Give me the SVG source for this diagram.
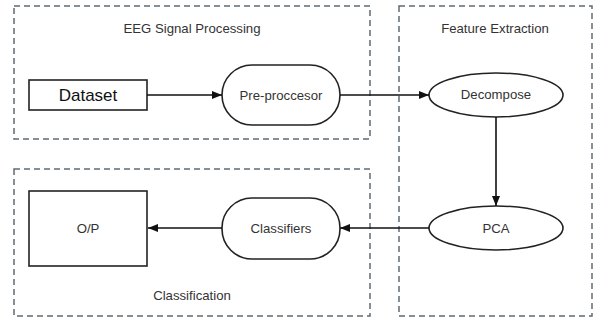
<svg xmlns="http://www.w3.org/2000/svg" width="597" height="320" viewBox="0 0 597 320">
<style>
.grp{fill:none;stroke:#5f6a74;stroke-width:1.5;stroke-dasharray:6 4}
.nd{fill:#fff;stroke:#222;stroke-width:1.6}
.lbl{font-family:"Liberation Sans",Arial,sans-serif;font-size:13.2px;fill:#333;text-anchor:middle;dominant-baseline:central}
.edge{stroke:#111;stroke-width:1.6;fill:none;marker-end:url(#ah)}
</style>
<defs>
<marker id="ah" viewBox="0 0 10 8" refX="10" refY="4" markerWidth="10" markerHeight="8" markerUnits="userSpaceOnUse" orient="auto">
<path d="M0,0 L10,4 L0,8 z" fill="#111"/>
</marker>
</defs>
<rect width="597" height="320" fill="#fff"/>
<g id="group-eeg">
<rect class="grp" x="14" y="6" width="356" height="133"/>
<text class="lbl" x="192" y="28">EEG Signal Processing</text>
</g>
<g id="group-feature">
<rect class="grp" x="399" y="6" width="193" height="310"/>
<text class="lbl" x="495" y="28">Feature Extraction</text>
</g>
<g id="group-classification">
<rect class="grp" x="14" y="169" width="356" height="147"/>
<text class="lbl" x="192" y="295">Classification</text>
</g>
<g id="dataset">
<rect class="nd" x="29" y="80" width="118" height="30"/>
<text class="lbl" x="88" y="95" style="font-size:17px;fill:#111">Dataset</text>
</g>
<g id="preprocessor">
<rect class="nd" x="222" y="65" width="118" height="60" rx="30" ry="30"/>
<text class="lbl" x="281" y="95">Pre-proccesor</text>
</g>
<g id="decompose">
<ellipse class="nd" cx="496" cy="95" rx="67" ry="22"/>
<text class="lbl" x="496" y="94">Decompose</text>
</g>
<g id="pca">
<ellipse class="nd" cx="496" cy="228" rx="67" ry="22"/>
<text class="lbl" x="496" y="228">PCA</text>
</g>
<g id="classifiers">
<rect class="nd" x="222" y="198" width="118" height="61" rx="30" ry="30"/>
<text class="lbl" x="281" y="228">Classifiers</text>
</g>
<g id="op">
<rect class="nd" x="29" y="191" width="118" height="75"/>
<text class="lbl" x="88" y="228">O/P</text>
</g>
<g id="connectors">
<path class="edge" d="M147,95 L222,95"/>
<path class="edge" d="M340,95 L429,95"/>
<path class="edge" d="M496,117 L496,206"/>
<path class="edge" d="M429,228 L340,228"/>
<path class="edge" d="M222,228 L148,228"/>
</g>
</svg>
